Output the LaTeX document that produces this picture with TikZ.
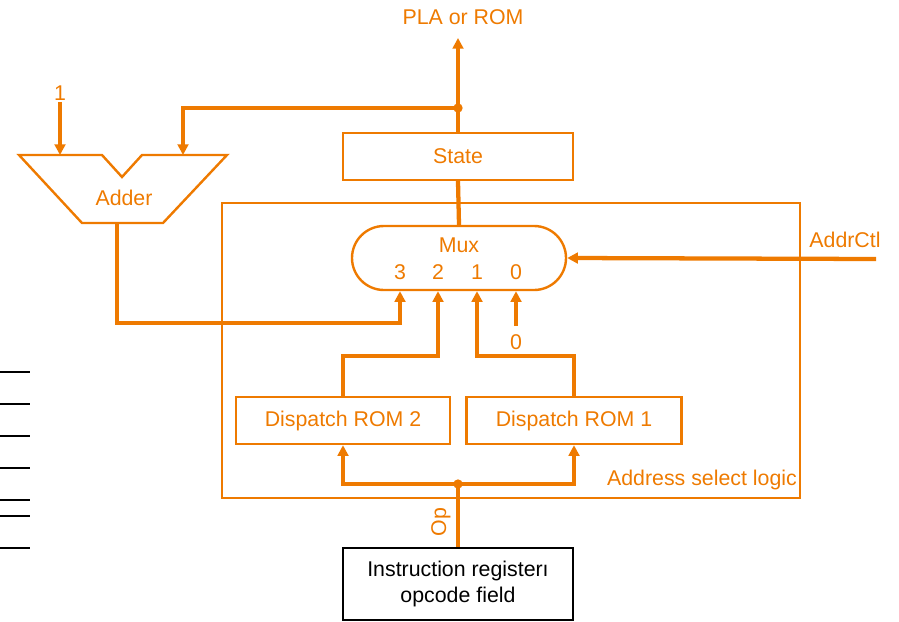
\documentclass[tikz,border=0pt]{standalone}
\usepackage{fontspec}
\setmainfont{Liberation Sans}
\usetikzlibrary{arrows.meta,shapes.misc}
\definecolor{datapath}{RGB}{238,122,0}

\begin{document}
\begin{tikzpicture}[x=0.75pt,y=-0.75pt,
    font=\fontsize{16}{19}\selectfont,
    bus/.style={draw=datapath,line width=3.2pt},
    feed/.style={bus,-{Triangle[length=8pt,width=8pt]}},
    unit/.style={draw=datapath,line width=1.8pt,text=datapath,minimum width=#1,minimum height=35.25pt,inner sep=0pt},
    lbl/.style={text=datapath,inner sep=1pt}]
    \useasboundingbox (0,0) rectangle (899,621);

    % address select logic frame
    \draw[datapath,line width=0.9pt] (222,203) rectangle (800,498);
    \node[lbl] (asl) at (702,480) {Address select logic};

    % blocks
    \node[unit=172.5pt] (state) at (458,156.5) {State};
    \node[draw=datapath,line width=1.8pt,rounded rectangle,minimum width=160.5pt,minimum height=48pt,inner sep=0pt] (mux) at (459,258) {};
    \node[lbl] (muxlbl) at (459,245) {Mux};
    \node[lbl] (n3) at (400,272) {3};
    \node[lbl] (n2) at (438,272) {2};
    \node[lbl] (n1) at (477,272) {1};
    \node[lbl] (n0) at (516,272) {0};
    \node[unit=160.5pt] (rom2) at (343,420.5) {Dispatch ROM 2};
    \node[unit=161.25pt] (rom1) at (574,420.5) {Dispatch ROM 1};
    \node[draw=black,line width=1.8pt,minimum width=172.5pt,minimum height=54pt,align=center,inner sep=0pt] (ir) at (458,584) {Instruction registerı\\opcode field};

    % adder
    \draw[datapath,line width=1.8pt] (19,155) -- (102,155) -- (122,177) -- (142,155) -- (227,155) -- (163,223) -- (82,223) -- cycle;
    \node[lbl] (adder) at (124,198) {Adder};
    \coordinate (adin1) at (60,155);
    \coordinate (adin2) at (183,155);
    \coordinate (adout) at (117,223);

    % labels
    \node[lbl] (pla) at (463,17) {PLA or ROM};
    \node[lbl] (one) at (60,93) {1};
    \node[lbl] (zero) at (516,342) {0};
    \node[lbl] (addr) at (845,240) {AddrCtl};
    \node[lbl,rotate=90] (op) at (441,522) {Op};
    \coordinate (plaout) at (458,38);
    \coordinate (actl) at (876,259);
    \coordinate (j1) at (458,108);
    \coordinate (j2) at (458,484);

    % connections
    \draw[feed] (state.north) -- (plaout);
    \draw[feed] (j1) -| (adin2);
    \fill[datapath] (j1) circle (3.5pt);
    \draw[feed] (one.south) -- (adin1);
    \draw[bus] (state.south) -- (mux.north);
    \draw[feed] (adout) -- ++(0,100) -| (mux.south -| n3);
    \draw[feed] (rom2.north) -- ++(0,-40) -| (mux.south -| n2);
    \draw[feed] (rom1.north) -- ++(0,-40) -| (mux.south -| n1);
    \draw[feed,shorten <=5pt] (zero.north) -- (mux.south -| n0);
    \draw[feed] (actl) -- (mux.east);
    \draw[bus] (ir.north) -- (j2);
    \draw[feed] (j2) -| (rom2.south);
    \draw[feed] (j2) -| (rom1.south);
    \fill[datapath] (j2) circle (3.5pt);

    % edge ticks
    \foreach \y in {372,404,436,468,500,516,548}
        \draw[line width=1.8pt] (0,\y) -- (30,\y);
\end{tikzpicture}
\end{document}
